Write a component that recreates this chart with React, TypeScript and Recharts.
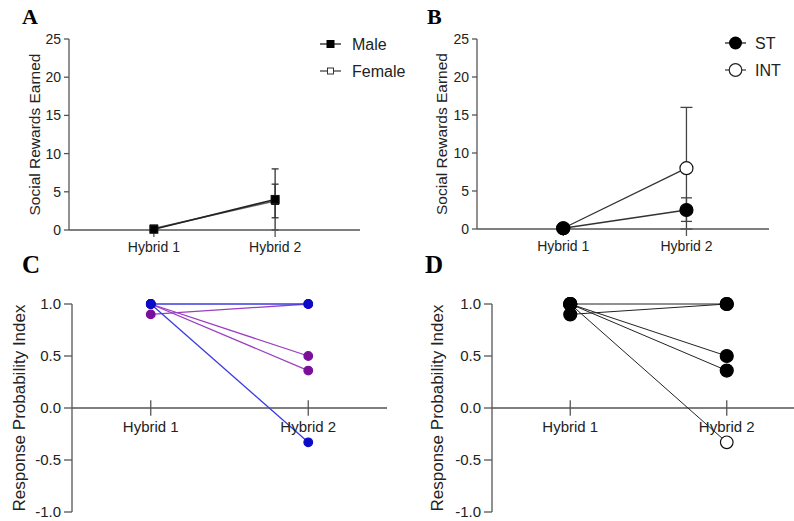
import React from "react";
import { LineChart, Line, XAxis, YAxis, ErrorBar, ReferenceLine, ReferenceDot } from "recharts";

// categories
const phases = ["Hybrid 1", "Hybrid 2"];
const phaseX = [1, 2];

// A: social rewards by sex (mean, [down, up] error)
const maleMean = [0.1, 4.0];
const maleErr = [[0.1, 0.1], [4.0, 4.0]];
const femaleMean = [0.2, 3.8];
const femaleErr = [[0.1, 0.1], [2.2, 2.2]];

// B: social rewards by phenotype
const stMean = [0.1, 2.5];
const stErr = [[0.1, 0.1], [1.5, 1.6]];
const intMean = [0.1, 8.0];
const intErr = [[0.1, 0.1], [8.0, 8.0]];

const rewardTicks = [0, 5, 10, 15, 20, 25];
const indexTicks = [-1, -0.5, 0, 0.5, 1];

// C/D: response probability index per subject
const subjectH1 = [0.9, 1.0, 1.0, 1.0, 1.0];
const subjectH2 = [1.0, 0.5, 0.36, 1.0, -0.33];
const subjectSex = ["F", "F", "F", "M", "M"];
const subjectType = ["ST", "ST", "ST", "ST", "INT"];

const AXIS = "#555";
const TEXT = "#222";
const SANS = "'Liberation Sans', Arial, sans-serif";
const SERIF = "'Liberation Serif', 'Times New Roman', serif";

const sexColor: Record<string, { dot: string; line: string }> = {
  M: { dot: "#0a0ac8", line: "#3b3be0" },
  F: { dot: "#7a0f9a", line: "#9a3fc2" },
};

const rowsA = phaseX.map((x, i) => ({
  x,
  male: maleMean[i],
  maleErr: maleErr[i],
  female: femaleMean[i],
  femaleErr: femaleErr[i],
}));

const rowsB = phaseX.map((x, i) => ({
  x,
  st: stMean[i],
  stErr: stErr[i],
  int: intMean[i],
  intErr: intErr[i],
}));

const subjects = subjectH1.map((h1, i) => ({
  id: i,
  sex: subjectSex[i],
  type: subjectType[i],
  data: [
    { x: phaseX[0], y: h1 },
    { x: phaseX[1], y: subjectH2[i] },
  ],
}));

const squareDot = (size: number, fill: string) => (p: any) => (
  <rect
    key={`sq-${p.dataKey}-${p.index}`}
    x={p.cx - size / 2}
    y={p.cy - size / 2}
    width={size}
    height={size}
    fill={fill}
    stroke="#111"
    strokeWidth={1}
  />
);

const circleDot = (r: number, fill: string, stroke: string) => (p: any) => (
  <circle key={`c-${p.dataKey}-${p.index}-${r}`} cx={p.cx} cy={p.cy} r={r} fill={fill} stroke={stroke} strokeWidth={1.2} />
);

const yTick = { fontSize: 14, fill: TEXT, fontFamily: SANS };

function RewardsPanel({ kind }: { kind: "A" | "B" }) {
  const isA = kind === "A";
  return (
    <LineChart
      width={isA ? 400 : 394}
      height={260}
      data={isA ? rowsA : rowsB}
      margin={isA ? { top: 39, right: 40, bottom: 0, left: 9 } : { top: 39, right: 25, bottom: 1, left: 17 }}
    >
      <XAxis
        type="number"
        dataKey="x"
        domain={isA ? [0.3, 2.7] : [0.3, 2.67]}
        ticks={phaseX}
        tickFormatter={(v) => phases[v - 1]}
        interval={0}
        height={30}
        stroke={AXIS}
        strokeWidth={1.3}
        tickSize={7}
        tickMargin={5}
        tick={{ fontSize: 14, fill: TEXT, fontFamily: SANS }}
      />
      <YAxis
        type="number"
        domain={[0, 25]}
        ticks={rewardTicks}
        interval={0}
        width={60}
        stroke={AXIS}
        strokeWidth={1.3}
        tickSize={5}
        tickMargin={3}
        tick={yTick}
        label={{
          value: "Social Rewards Earned",
          angle: -90,
          position: "center",
          dx: isA ? -5 : -6,
          style: { fontSize: 15.5, fill: TEXT, fontFamily: SANS },
        }}
      />
      {isA ? (
        <>
          <Line dataKey="female" stroke="#666" strokeWidth={1.5} isAnimationActive={false} dot={squareDot(7, "#fff")}>
            <ErrorBar dataKey="femaleErr" width={3.5} stroke="#333" strokeWidth={1.3} direction="y" />
          </Line>
          <Line dataKey="male" stroke="#222" strokeWidth={1.5} isAnimationActive={false} dot={squareDot(8, "#000")}>
            <ErrorBar dataKey="maleErr" width={3.5} stroke="#333" strokeWidth={1.3} direction="y" />
          </Line>
        </>
      ) : (
        <>
          <Line dataKey="int" stroke="#333" strokeWidth={1.3} isAnimationActive={false} dot={circleDot(6.5, "#fff", "#111")}>
            <ErrorBar dataKey="intErr" width={6} stroke="#444" strokeWidth={1.3} direction="y" />
          </Line>
          <Line dataKey="st" stroke="#333" strokeWidth={1.3} isAnimationActive={false} dot={circleDot(6.5, "#000", "#000")}>
            <ErrorBar dataKey="stErr" width={5.5} stroke="#444" strokeWidth={1.3} direction="y" />
          </Line>
        </>
      )}
    </LineChart>
  );
}

function IndexPanel({ kind }: { kind: "C" | "D" }) {
  const isC = kind === "C";
  const order = isC
    ? [...subjects].sort((a, b) => (a.sex === b.sex ? 0 : a.sex === "F" ? -1 : 1))
    : [...subjects].sort((a, b) => (a.type === b.type ? 0 : a.type === "INT" ? -1 : 1));
  return (
    <LineChart
      width={isC ? 400 : 410}
      height={261}
      margin={isC ? { top: 44, right: 13, bottom: 9, left: 12 } : { top: 44, right: 5, bottom: 9, left: 32 }}
    >
      <XAxis type="number" dataKey="x" domain={[0.5, 2.5]} hide allowDuplicatedCategory={false} />
      <YAxis
        type="number"
        dataKey="y"
        domain={[-1, 1]}
        ticks={indexTicks}
        interval={0}
        width={60}
        stroke={AXIS}
        strokeWidth={1.3}
        tickSize={8}
        tickMargin={3}
        tickFormatter={(v) => Number(v).toFixed(1)}
        tick={{ fontSize: 15, fill: TEXT, fontFamily: SANS }}
        label={{
          value: "Response Probability Index",
          angle: -90,
          position: "center",
          dx: isC ? -23 : -25,
          style: { fontSize: 17, fill: TEXT, fontFamily: SANS },
        }}
      />
      <ReferenceLine y={0} stroke={AXIS} strokeWidth={1.3} />
      {phaseX.map((x) => (
        <ReferenceLine
          key={`t-${x}`}
          segment={[
            { x, y: -0.075 },
            { x, y: 0.075 },
          ]}
          stroke={AXIS}
          strokeWidth={1.3}
        />
      ))}
      {phaseX.map((x, i) => (
        <ReferenceDot
          key={`l-${x}`}
          x={x}
          y={0}
          r={0}
          fill="none"
          stroke="none"
          label={{ value: phases[i], position: "bottom", offset: 13, fontSize: 15, fill: TEXT, fontFamily: SANS }}
        />
      ))}
      {order.map((s) => {
        const c = sexColor[s.sex];
        return (
          <Line
            key={`s-${s.id}`}
            data={s.data}
            dataKey="y"
            name={`subject ${s.id + 1}`}
            stroke={isC ? c.line : "#222"}
            strokeWidth={isC ? 1.3 : 1}
            isAnimationActive={false}
            dot={
              isC
                ? circleDot(4.3, c.dot, c.dot)
                : s.type === "INT"
                ? circleDot(6.3, "#fff", "#111")
                : circleDot(6.5, "#000", "#000")
            }
          />
        );
      })}
    </LineChart>
  );
}

function Overlay() {
  const legendText = { fontSize: 16, fill: TEXT, fontFamily: SANS } as const;
  const panelLabel = { fontFamily: SERIF, fontWeight: 700, fill: "#000" } as const;
  return (
    <svg width={794} height={521} style={{ position: "absolute", left: 0, top: 0, pointerEvents: "none" }}>
      <text x={22} y={24} fontSize={22} {...panelLabel}>A</text>
      <text x={427} y={24} fontSize={22} {...panelLabel}>B</text>
      <text x={22} y={273} fontSize={25} {...panelLabel}>C</text>
      <text x={425} y={273} fontSize={25} {...panelLabel}>D</text>

      {/* legend A */}
      <line x1={320} x2={341} y1={44} y2={44} stroke="#222" strokeWidth={1.3} />
      <rect x={326.5} y={40} width={8} height={8} fill="#000" />
      <text x={352} y={49.5} {...legendText}>Male</text>
      <line x1={320} x2={341} y1={71} y2={71} stroke="#444" strokeWidth={1.3} />
      <rect x={327.5} y={68} width={6} height={6} fill="#fff" stroke="#333" strokeWidth={1} />
      <text x={352} y={76.5} {...legendText}>Female</text>

      {/* legend B */}
      <line x1={725} x2={746} y1={43} y2={43} stroke="#222" strokeWidth={1.3} />
      <circle cx={735.5} cy={43} r={6.5} fill="#000" />
      <text x={755} y={48.5} {...legendText}>ST</text>
      <line x1={725} x2={746} y1={70} y2={70} stroke="#444" strokeWidth={1.3} />
      <circle cx={735.5} cy={70} r={6.3} fill="#fff" stroke="#222" strokeWidth={1.2} />
      <text x={755} y={75.5} {...legendText}>INT</text>
    </svg>
  );
}

export default function App() {
  return (
    <div style={{ position: "absolute", left: 0, top: 0, width: 794, height: 521, overflow: "hidden", background: "#fff" }}>
      <div style={{ position: "absolute", left: 0, top: 0 }}>
        <RewardsPanel kind="A" />
      </div>
      <div style={{ position: "absolute", left: 400, top: 0 }}>
        <RewardsPanel kind="B" />
      </div>
      <div style={{ position: "absolute", left: 0, top: 260 }}>
        <IndexPanel kind="C" />
      </div>
      <div style={{ position: "absolute", left: 400, top: 260 }}>
        <IndexPanel kind="D" />
      </div>
      <Overlay />
    </div>
  );
}
